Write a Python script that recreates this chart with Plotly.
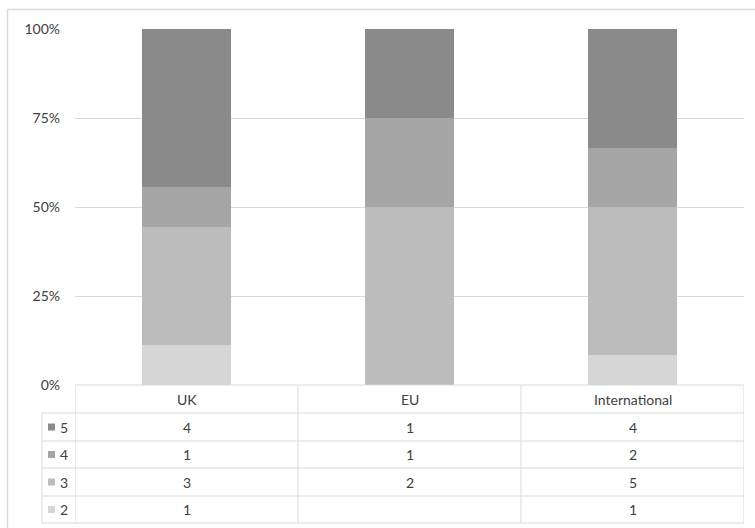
import plotly.graph_objects as go

categories = ["UK", "EU", "International"]
series_names = ["2", "3", "4", "5"]
values_2 = [1, None, 1]
values_3 = [3, 2, 5]
values_4 = [1, 1, 2]
values_5 = [4, 1, 4]
series_values = [values_2, values_3, values_4, values_5]
colors = ["#d6d6d6", "#bcbcbc", "#a5a5a5", "#8a8a8a"]
y_ticks = [0, 0.25, 0.5, 0.75, 1.0]
y_tick_labels = ["0%", "25%", "50%", "75%", "100%"]

W, H = 755, 528
FONT = "Lato"
TXT = "#404040"
LINE = "#d9d9d9"

def px(x):
    return x / W

def py(y):
    return 1 - y / H

plot_left, plot_right = 75, 744
plot_top, plot_bottom = 29, 385
row_edges = [385, 413, 441, 468, 496, 523]  # header + 4 series rows
legend_left = 42

fig = go.Figure()
for name, vals, col in zip(series_names, series_values, colors):
    fig.add_trace(go.Bar(
        x=categories, y=[v if v is not None else 0 for v in vals], name=name,
        marker=dict(color=col, line=dict(width=0)), width=0.4,
        showlegend=False,
    ))

shapes = []
annotations = []
# outer chart border
shapes.append(dict(type="line", xref="paper", yref="paper", x0=px(7.5), x1=px(7.5), y0=py(9.5), y1=py(540),
                   line=dict(color=LINE, width=1.5)))
shapes.append(dict(type="line", xref="paper", yref="paper", x0=px(7.5), x1=px(760), y0=py(9.5), y1=py(9.5),
                   line=dict(color=LINE, width=1.5)))

# table horizontal lines
for i, y in enumerate(row_edges):
    x0 = plot_left if i == 0 else legend_left
    shapes.append(dict(type="line", xref="paper", yref="paper", x0=px(x0), x1=px(plot_right),
                       y0=py(y), y1=py(y), line=dict(color=LINE, width=1)))
# table vertical lines
for xv in [-0.5, 0.5, 1.5, 2.5]:
    shapes.append(dict(type="line", xref="x", yref="paper", x0=xv, x1=xv,
                       y0=py(row_edges[0]), y1=py(row_edges[-1]), line=dict(color=LINE, width=1)))
shapes.append(dict(type="line", xref="paper", yref="paper", x0=px(legend_left), x1=px(legend_left),
                   y0=py(row_edges[1]), y1=py(row_edges[-1]), line=dict(color=LINE, width=1)))

ann_font = dict(family=FONT, size=14, color=TXT)
# header
for c in categories:
    annotations.append(dict(x=c, y=py((row_edges[0] + row_edges[1]) / 2), xref="x", yref="paper",
                            text=c, showarrow=False, xanchor="center", yanchor="middle", font=ann_font))

# rows (top row is series 5)
order = list(range(len(series_names)))[::-1]
for r, si in enumerate(order):
    yc = (row_edges[r + 1] + row_edges[r + 2]) / 2
    shapes.append(dict(type="rect", xref="paper", yref="paper", x0=px(48), x1=px(55),
                       y0=py(yc - 3.5), y1=py(yc + 3.5), fillcolor=colors[si], line=dict(width=0)))
    annotations.append(dict(x=px(58), y=py(yc), xref="paper", yref="paper", text=series_names[si],
                            xanchor="left", yanchor="middle", showarrow=False, font=ann_font))
    for c, v in zip(categories, series_values[si]):
        if v is None:
            continue
        annotations.append(dict(x=c, y=py(yc), xref="x", yref="paper", text=str(v), showarrow=False,
                                xanchor="center", yanchor="middle", font=ann_font))

fig.update_layout(
    width=W, height=H, margin=dict(l=0, r=0, t=0, b=0, pad=0),
    paper_bgcolor="white", plot_bgcolor="white",
    barmode="stack", barnorm="fraction",
    xaxis=dict(domain=[px(plot_left), px(plot_right)], range=[-0.5, 2.5], showticklabels=False,
               showgrid=False, zeroline=False, showline=False, fixedrange=True, automargin=False),
    yaxis=dict(domain=[py(plot_bottom), py(plot_top)], range=[0, 1], tickvals=y_ticks,
               ticktext=y_tick_labels, showgrid=True, gridcolor=LINE, gridwidth=1, zeroline=False,
               showline=False, ticks="", ticklabelstandoff=14, automargin=False,
               tickfont=dict(family=FONT, size=14, color=TXT)),
    shapes=shapes, annotations=annotations,
)

fig.write_html("out.html", config={"displayModeBar": False},
               post_script="document.body.style.margin='0';document.body.style.overflow='hidden';")
